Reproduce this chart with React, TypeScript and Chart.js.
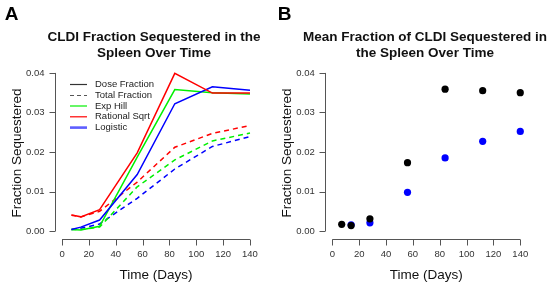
import React, { useEffect, useRef } from "react";
import { Chart, registerables } from "chart.js";
Chart.register(...registerables);

// ---- Data ----
const days = [7, 14, 28, 56, 84, 112, 140];
const doseRational = [0.0041, 0.0036, 0.0054, 0.0198, 0.0399, 0.0349, 0.0349];
const doseExpHill = [0.0004, 0.0003, 0.0012, 0.0187, 0.0358, 0.035, 0.0347];
const doseLogistic = [0.0004, 0.001, 0.0028, 0.0143, 0.0322, 0.0365, 0.0356];
const totalRational = [0.004, 0.0036, 0.005, 0.0124, 0.0212, 0.0247, 0.0267];
const totalExpHill = [0.0004, 0.0004, 0.001, 0.0112, 0.018, 0.0228, 0.0248];
const totalLogistic = [0.0004, 0.0007, 0.0018, 0.0083, 0.0157, 0.0214, 0.0239];

const meanDoseDays = [7, 14, 28, 56, 84, 112, 140];
const meanDose = [0.0017, 0.0014, 0.0031, 0.0173, 0.0359, 0.0355, 0.035];
const meanTotalDays = [14, 28, 56, 84, 112, 140];
const meanTotal = [0.0016, 0.0021, 0.0098, 0.0185, 0.0227, 0.0252];

const xTicks = [0, 20, 40, 60, 80, 100, 120, 140];
const yTicks = [0, 0.01, 0.02, 0.03, 0.04];

const titleA = ["CLDI Fraction Sequestered in the", "Spleen Over Time"];
const titleB = ["Mean Fraction of CLDI Sequestered in", "the Spleen Over Time"];
const legendLabels = ["Dose Fraction", "Total Fraction", "Exp Hill", "Rational Sqrt", "Logistic"];

const FONT = '"Liberation Sans", Arial, sans-serif';
const RED = "#ff0000";
const GREEN = "#00f000";
const BLUE = "#0000ff";

function pts(xs: number[], ys: number[]) {
  return xs.map((x, i) => ({ x, y: ys[i] }));
}

type PanelOpts = {
  letter: string;
  letterX: number;
  title: string[];
  titleX: number;
  legend: boolean;
};

function makePlugin(p: PanelOpts) {
  return {
    id: "rstyle",
    afterDraw(chart: any) {
      const ctx = chart.ctx as CanvasRenderingContext2D;
      const xs = chart.scales.x;
      const ys = chart.scales.y;
      const area = chart.chartArea;
      ctx.save();
      // axes
      ctx.strokeStyle = "#555";
      ctx.lineWidth = 1;
      ctx.beginPath();
      const yl = Math.round(area.left) + 0.5;
      ctx.moveTo(yl, ys.getPixelForValue(yTicks[0]));
      ctx.lineTo(yl, ys.getPixelForValue(yTicks[yTicks.length - 1]));
      yTicks.forEach((v) => {
        const py = Math.round(ys.getPixelForValue(v)) + 0.5;
        ctx.moveTo(yl, py);
        ctx.lineTo(yl - 6, py);
      });
      const xb = Math.round(area.bottom) + 0.5;
      ctx.moveTo(xs.getPixelForValue(xTicks[0]), xb);
      ctx.lineTo(xs.getPixelForValue(xTicks[xTicks.length - 1]), xb);
      xTicks.forEach((v) => {
        const px = Math.round(xs.getPixelForValue(v)) + 0.5;
        ctx.moveTo(px, xb);
        ctx.lineTo(px, xb + 6);
      });
      ctx.stroke();

      // panel letter
      ctx.fillStyle = "#000";
      ctx.font = `bold 19px ${FONT}`;
      ctx.textAlign = "center";
      ctx.textBaseline = "middle";
      ctx.fillText(p.letter, p.letterX, 15);

      // title
      ctx.fillStyle = "#111";
      ctx.font = `bold 13.5px ${FONT}`;
      ctx.fillText(p.title[0], p.titleX, 37);
      ctx.fillText(p.title[1], p.titleX, 53);

      if (p.legend) {
        const rows = [84.5, 95.5, 106, 116.8, 127.6];
        const styles = [
          { c: "#333", w: 1.2, d: [] as number[] },
          { c: "#555", w: 1.2, d: [4, 3] },
          { c: GREEN, w: 1.2, d: [] },
          { c: RED, w: 1.2, d: [] },
          { c: "rgba(40,40,255,0.75)", w: 2.6, d: [] },
        ];
        ctx.font = `9.5px ${FONT}`;
        ctx.textAlign = "left";
        ctx.textBaseline = "middle";
        rows.forEach((y, i) => {
          const s = styles[i];
          ctx.strokeStyle = s.c;
          ctx.lineWidth = s.w;
          ctx.setLineDash(s.d);
          ctx.beginPath();
          ctx.moveTo(70, y);
          ctx.lineTo(87, y);
          ctx.stroke();
          ctx.setLineDash([]);
          ctx.fillStyle = "#222";
          ctx.fillText(legendLabels[i], 95, y);
        });
      }
      ctx.restore();
    },
  };
}

function scales(yWidth: number, yTitlePad: number, yTickPad: number) {
  const tickFont = { family: FONT, size: 9.5 };
  const titleFont = { family: FONT, size: 13.5 };
  return {
    x: {
      type: "linear" as const,
      min: -5.6,
      max: 145.6,
      afterFit: (s: any) => {
        s.height = 47;
      },
      afterBuildTicks: (s: any) => {
        s.ticks = xTicks.map((v) => ({ value: v }));
      },
      grid: { display: false, drawTicks: false },
      border: { display: false },
      ticks: {
        font: tickFont,
        color: "#333",
        padding: 10,
        maxRotation: 0,
        autoSkip: false,
        callback: (v: any) => String(v),
      },
      title: {
        display: true,
        text: "Time (Days)",
        font: titleFont,
        color: "#111",
        padding: { top: 0, bottom: 3 },
      },
    },
    y: {
      type: "linear" as const,
      min: -0.002,
      max: 0.0415,
      afterFit: (s: any) => {
        s.width = yWidth;
      },
      afterBuildTicks: (s: any) => {
        s.ticks = yTicks.map((v) => ({ value: v }));
      },
      grid: { display: false, drawTicks: false },
      border: { display: false },
      ticks: {
        font: tickFont,
        color: "#333",
        padding: yTickPad,
        autoSkip: false,
        callback: (v: any) => Number(v).toFixed(2),
      },
      title: {
        display: true,
        text: "Fraction Sequestered",
        font: titleFont,
        color: "#111",
        padding: { top: yTitlePad, bottom: 0 },
      },
    },
  };
}

function PanelA() {
  const ref = useRef<HTMLCanvasElement>(null);
  useEffect(() => {
    const line = (data: number[], color: string, dashed: boolean) => ({
      data: pts(days, data),
      borderColor: color,
      backgroundColor: color,
      borderWidth: 1.5,
      borderDash: dashed ? [5, 4] : [],
      pointRadius: 0,
      tension: 0,
      fill: false,
    });
    const chart = new Chart(ref.current!, {
      type: "line",
      data: {
        datasets: [
          line(doseRational, RED, false),
          line(doseLogistic, BLUE, false),
          line(doseExpHill, GREEN, false),
          line(totalRational, RED, true),
          line(totalExpHill, GREEN, true),
          line(totalLogistic, BLUE, true),
        ],
      },
      options: {
        responsive: false,
        animation: false,
        layout: { padding: { left: 0, right: 17.5, top: 67, bottom: 0 } },
        plugins: { legend: { display: false }, tooltip: { enabled: false }, title: { display: false } },
        scales: scales(54.5, 9, 10) as any,
      },
      plugins: [makePlugin({ letter: "A", letterX: 11.5, title: titleA, titleX: 154, legend: true })],
    });
    return () => chart.destroy();
  }, []);
  return <canvas ref={ref} width={275} height={286} style={{ width: 275, height: 286, display: "block" }} />;
}

function PanelB() {
  const ref = useRef<HTMLCanvasElement>(null);
  useEffect(() => {
    const sc = (xs: number[], ys: number[], color: string) => ({
      data: pts(xs, ys),
      borderColor: color,
      backgroundColor: color,
      pointRadius: 3.6,
      pointBorderWidth: 0,
      showLine: false,
    });
    const chart = new Chart(ref.current!, {
      type: "scatter",
      data: {
        datasets: [sc(meanDoseDays, meanDose, "#000"), sc(meanTotalDays, meanTotal, BLUE)],
      },
      options: {
        responsive: false,
        animation: false,
        layout: { padding: { left: 0, right: 22.2, top: 67, bottom: 0 } },
        plugins: { legend: { display: false }, tooltip: { enabled: false }, title: { display: false } },
        scales: scales(49.8, 4, 10) as any,
      },
      plugins: [makePlugin({ letter: "B", letterX: 9.5, title: titleB, titleX: 150, legend: false })],
    });
    return () => chart.destroy();
  }, []);
  return <canvas ref={ref} width={275} height={286} style={{ width: 275, height: 286, display: "block" }} />;
}

export default function App() {
  return (
    <div style={{ position: "fixed", left: 0, top: 0, width: 550, height: 286, background: "#fff", display: "flex" }}>
      <PanelA />
      <PanelB />
    </div>
  );
}
